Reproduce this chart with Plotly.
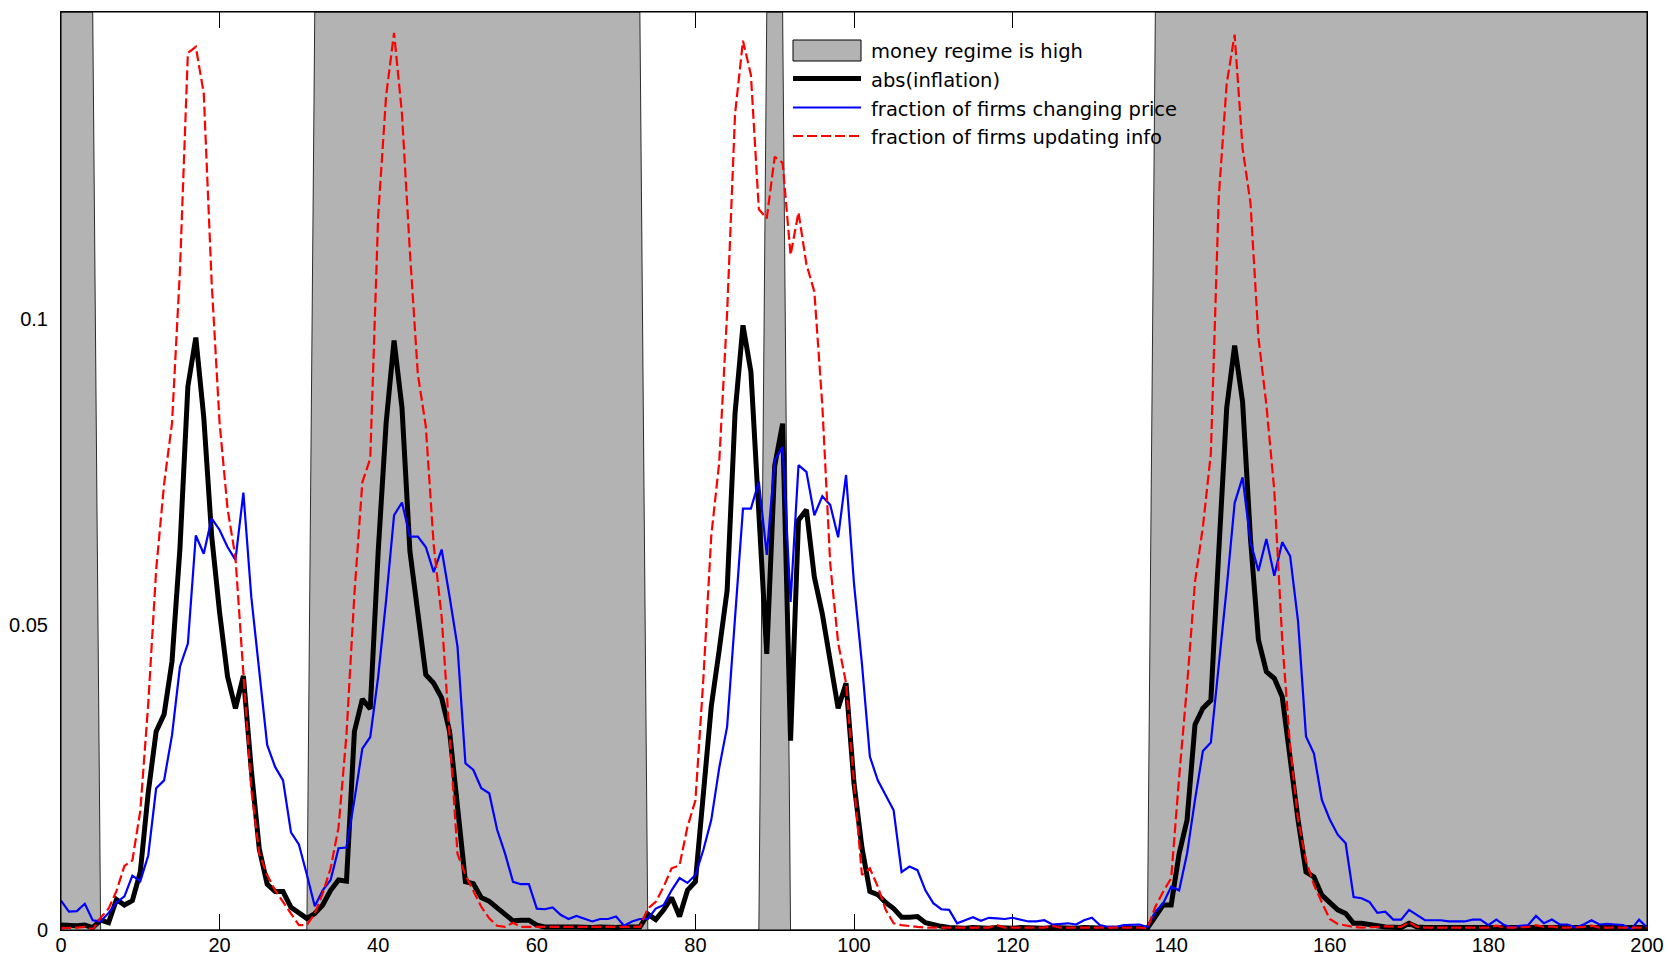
import plotly.graph_objects as go

# ---------------- data ----------------
t = list(range(0, 201))

# 1 = money regime high, 0 = low
regime = ([1] * 5 + [0] * 27 + [1] * 42 + [0] * 15 + [1] * 3 + [0] * 46 + [1] * 63)

abs_inflation = [
    0.0008, 0.0007, 0.0007, 0.0008, 0.0004, 0.0016, 0.0012, 0.0050, 0.0041, 0.0048,
    0.0095, 0.0225, 0.0325, 0.0353, 0.0440, 0.0625, 0.0890, 0.0970, 0.0840, 0.0645,
    0.0520, 0.0415, 0.0363, 0.0416, 0.0262, 0.0133, 0.0075, 0.0063, 0.0063, 0.0037,
    0.0029, 0.0019, 0.0027, 0.0041, 0.0065, 0.0082, 0.0080, 0.0325, 0.0378, 0.0362,
    0.0620, 0.0830, 0.0965, 0.0855, 0.0620, 0.0512, 0.0418, 0.0404, 0.0380, 0.0325,
    0.0196, 0.0079, 0.0076, 0.0053, 0.0047, 0.0036, 0.0027, 0.0015, 0.0016, 0.0016,
    0.0008, 0.0005, 0.0005, 0.0004, 0.0005, 0.0005, 0.0004, 0.0004, 0.0005, 0.0004,
    0.0004, 0.0005, 0.0004, 0.0005, 0.0026, 0.0017, 0.0033, 0.0053, 0.0022, 0.0065,
    0.0079, 0.0230, 0.0366, 0.0458, 0.0556, 0.0846, 0.0990, 0.0914, 0.0680, 0.0452,
    0.0760, 0.0829, 0.0310, 0.0671, 0.0688, 0.0578, 0.0518, 0.0442, 0.0363, 0.0404,
    0.0240, 0.0135, 0.0063, 0.0058, 0.0045, 0.0035, 0.0021, 0.0021, 0.0022, 0.0012,
    0.0008, 0.0006, 0.0004, 0.0003, 0.0003, 0.0004, 0.0003, 0.0003, 0.0004, 0.0003,
    0.0003, 0.0004, 0.0003, 0.0003, 0.0003, 0.0004, 0.0003, 0.0003, 0.0003, 0.0004,
    0.0003, 0.0003, 0.0003, 0.0003, 0.0003, 0.0003, 0.0003, 0.0003, 0.0022, 0.0041,
    0.0041, 0.0125, 0.0180, 0.0336, 0.0363, 0.0376, 0.0620, 0.0855, 0.0957, 0.0865,
    0.0640, 0.0475, 0.0423, 0.0412, 0.0382, 0.0278, 0.0180, 0.0095, 0.0087, 0.0057,
    0.0044, 0.0033, 0.0027, 0.0011, 0.0011, 0.0010, 0.0007, 0.0005, 0.0004, 0.0004,
    0.0011, 0.0005, 0.0004, 0.0004, 0.0004, 0.0004, 0.0004, 0.0004, 0.0004, 0.0004,
    0.0004, 0.0004, 0.0004, 0.0004, 0.0004, 0.0004, 0.0006, 0.0004, 0.0004, 0.0004,
    0.0004, 0.0004, 0.0004, 0.0005, 0.0004, 0.0004, 0.0004, 0.0004, 0.0004, 0.0004,
    0.0004,
]

frac_changing_price = [
    0.0048, 0.0030, 0.0031, 0.0043, 0.0016, 0.0014, 0.0028, 0.0045, 0.0055, 0.0089,
    0.0080, 0.0122, 0.0232, 0.0245, 0.0319, 0.0431, 0.0469, 0.0646, 0.0616, 0.0674,
    0.0655, 0.0627, 0.0606, 0.0716, 0.0545, 0.0420, 0.0303, 0.0267, 0.0245, 0.0160,
    0.0140, 0.0091, 0.0039, 0.0065, 0.0082, 0.0134, 0.0135, 0.0213, 0.0297, 0.0316,
    0.0415, 0.0540, 0.0679, 0.0700, 0.0644, 0.0644, 0.0627, 0.0586, 0.0623, 0.0546,
    0.0464, 0.0273, 0.0262, 0.0232, 0.0224, 0.0164, 0.0125, 0.0079, 0.0075, 0.0075,
    0.0035, 0.0034, 0.0037, 0.0025, 0.0018, 0.0023, 0.0018, 0.0014, 0.0018, 0.0018,
    0.0022, 0.0007, 0.0014, 0.0018, 0.0018, 0.0035, 0.0041, 0.0065, 0.0085, 0.0077,
    0.0090, 0.0131, 0.0180, 0.0265, 0.0333, 0.0510, 0.0690, 0.0690, 0.0734, 0.0614,
    0.0769, 0.0791, 0.0537, 0.0761, 0.0750, 0.0679, 0.0710, 0.0696, 0.0643, 0.0745,
    0.0567, 0.0436, 0.0284, 0.0245, 0.0221, 0.0196, 0.0095, 0.0104, 0.0098, 0.0065,
    0.0044, 0.0034, 0.0033, 0.0011, 0.0016, 0.0021, 0.0015, 0.0020, 0.0019, 0.0018,
    0.0020, 0.0017, 0.0014, 0.0014, 0.0016, 0.0009, 0.0010, 0.0011, 0.0009, 0.0016,
    0.0020, 0.0008, 0.0005, 0.0005, 0.0008, 0.0009, 0.0009, 0.0005, 0.0030, 0.0044,
    0.0071, 0.0065, 0.0125, 0.0213, 0.0293, 0.0307, 0.0430, 0.0560, 0.0699, 0.0741,
    0.0635, 0.0588, 0.0640, 0.0580, 0.0635, 0.0612, 0.0505, 0.0317, 0.0289, 0.0213,
    0.0181, 0.0156, 0.0142, 0.0054, 0.0052, 0.0046, 0.0028, 0.0030, 0.0017, 0.0017,
    0.0033, 0.0025, 0.0016, 0.0016, 0.0016, 0.0014, 0.0014, 0.0014, 0.0017, 0.0017,
    0.0008, 0.0017, 0.0008, 0.0004, 0.0007, 0.0008, 0.0023, 0.0011, 0.0017, 0.0009,
    0.0009, 0.0004, 0.0009, 0.0016, 0.0009, 0.0010, 0.0009, 0.0008, 0.0001, 0.0017,
    0.0004,
]

frac_updating_info = [
    0.0003, 0.0003, 0.0004, 0.0005, 0.0001, 0.0020, 0.0035, 0.0064, 0.0105, 0.0114,
    0.0195, 0.0370, 0.0590, 0.0730, 0.0830, 0.1080, 0.1436, 0.1446, 0.1370, 0.1060,
    0.0830, 0.0690, 0.0610, 0.0420, 0.0230, 0.0125, 0.0090, 0.0065, 0.0045, 0.0027,
    0.0008, 0.0008, 0.0027, 0.0060, 0.0101, 0.0168, 0.0320, 0.0550, 0.0733, 0.0772,
    0.1170, 0.1366, 0.1469, 0.1336, 0.1110, 0.0910, 0.0825, 0.0630, 0.0513, 0.0327,
    0.0125, 0.0090, 0.0065, 0.0038, 0.0019, 0.0007, 0.0005, 0.0012, 0.0005, 0.0005,
    0.0005, 0.0005, 0.0005, 0.0005, 0.0005, 0.0005, 0.0005, 0.0005, 0.0005, 0.0005,
    0.0005, 0.0005, 0.0005, 0.0005, 0.0035, 0.0046, 0.0071, 0.0101, 0.0106, 0.0169,
    0.0212, 0.0410, 0.0645, 0.0765, 0.1010, 0.1336, 0.1456, 0.1400, 0.1180, 0.1165,
    0.1266, 0.1256, 0.1105, 0.1175, 0.1090, 0.1045, 0.0860, 0.0600, 0.0470, 0.0404,
    0.0240, 0.0090, 0.0101, 0.0071, 0.0033, 0.0011, 0.0008, 0.0006, 0.0005, 0.0004,
    0.0004, 0.0005, 0.0004, 0.0004, 0.0005, 0.0004, 0.0004, 0.0004, 0.0008, 0.0004,
    0.0004, 0.0004, 0.0005, 0.0004, 0.0004, 0.0007, 0.0004, 0.0004, 0.0004, 0.0004,
    0.0005, 0.0004, 0.0004, 0.0004, 0.0004, 0.0004, 0.0004, 0.0003, 0.0038, 0.0063,
    0.0085, 0.0250, 0.0400, 0.0570, 0.0660, 0.0780, 0.1200, 0.1386, 0.1466, 0.1280,
    0.1190, 0.0970, 0.0860, 0.0720, 0.0475, 0.0300, 0.0180, 0.0113, 0.0074, 0.0045,
    0.0018, 0.0010, 0.0007, 0.0005, 0.0004, 0.0004, 0.0005, 0.0006, 0.0005, 0.0005,
    0.0013, 0.0005, 0.0004, 0.0004, 0.0004, 0.0004, 0.0005, 0.0004, 0.0004, 0.0004,
    0.0004, 0.0007, 0.0004, 0.0004, 0.0004, 0.0005, 0.0008, 0.0005, 0.0006, 0.0004,
    0.0004, 0.0004, 0.0005, 0.0007, 0.0004, 0.0004, 0.0004, 0.0005, 0.0004, 0.0005,
    0.0004,
]

series_names = [
    "money regime is high",
    "abs(inflation)",
    "fraction of firms changing price",
    "fraction of firms updating info",
]

x_ticks = [0, 20, 40, 60, 80, 100, 120, 140, 160, 180, 200]
y_ticks = [0, 0.05, 0.1]
y_tick_labels = ["0", "0.05", "0.1"]
Y_MAX = 0.1503

# ---------------- styling ----------------
FONT = "Liberation Sans, Arial, Helvetica, sans-serif"
LEGEND_FONT = "DejaVu Sans, Liberation Sans, Arial, sans-serif"
GRAY = "rgb(179,179,179)"
BLUE = "rgb(0,0,255)"
RED = "rgb(255,0,0)"
RED_DASH = "10px,4px"

W, H = 1669, 960
ML, MR, MT, MB = 61, 22, 12, 30
PW, PH = W - ML - MR, H - MT - MB


def px_x(px):
    return (px - ML) / PW


def px_y(py):
    return (H - MB - py) / PH


fig = go.Figure()

fig.add_trace(go.Scatter(
    x=t, y=[r * Y_MAX for r in regime], mode="lines", name=series_names[0],
    fill="tozeroy", fillcolor=GRAY, line=dict(color="black", width=0.8),
    showlegend=False,
))
fig.add_trace(go.Scatter(
    x=t, y=abs_inflation, mode="lines", name=series_names[1],
    line=dict(color="black", width=5), showlegend=False,
))
fig.add_trace(go.Scatter(
    x=t, y=frac_changing_price, mode="lines", name=series_names[2],
    line=dict(color=BLUE, width=2.2), showlegend=False,
))
fig.add_trace(go.Scatter(
    x=t, y=frac_updating_info, mode="lines", name=series_names[3],
    line=dict(color=RED, width=2.2, dash=RED_DASH), showlegend=False,
))

axis_common = dict(
    showgrid=False, zeroline=False, showline=True, linecolor="black", linewidth=1,
    mirror="ticks", ticks="inside", ticklen=16, tickwidth=1, tickcolor="black",
    layer="below traces", automargin=False,
    tickfont=dict(family=FONT, size=20, color="black"),
)

# legend drawn as shapes + text (placed in paper coordinates)
sx0, sx1 = px_x(793), px_x(861)
text_x = px_x(869)
row_text_y = [51.5, 80.5, 109, 137.5]
shapes = [
    dict(type="rect", xref="paper", yref="paper", x0=sx0, x1=sx1,
         y0=px_y(61), y1=px_y(40), fillcolor=GRAY, line=dict(color="black", width=1),
         layer="above"),
    dict(type="line", xref="paper", yref="paper", x0=sx0, x1=sx1,
         y0=px_y(78.5), y1=px_y(78.5), line=dict(color="black", width=5), layer="above"),
    dict(type="line", xref="paper", yref="paper", x0=sx0, x1=sx1,
         y0=px_y(107.5), y1=px_y(107.5), line=dict(color=BLUE, width=2.2), layer="above"),
    dict(type="line", xref="paper", yref="paper", x0=sx0, x1=sx1,
         y0=px_y(136), y1=px_y(136), line=dict(color=RED, width=2.2, dash=RED_DASH),
         layer="above"),
    # axes frame on top
    dict(type="rect", xref="paper", yref="paper", x0=0, x1=1, y0=0, y1=1,
         line=dict(color="black", width=1), fillcolor="rgba(0,0,0,0)", layer="above"),
]
annotations = [
    dict(xref="paper", yref="paper", x=text_x, y=px_y(yy), text=name,
         showarrow=False, xanchor="left", yanchor="middle",
         font=dict(family=LEGEND_FONT, size=19.5, color="black"))
    for name, yy in zip(series_names, row_text_y)
]

fig.update_layout(
    width=W, height=H, autosize=False,
    margin=dict(l=ML, r=MR, t=MT, b=MB, pad=0),
    paper_bgcolor="white", plot_bgcolor="white",
    font=dict(family=FONT, color="black"),
    xaxis=dict(range=[0, 200], tickvals=x_ticks, ticklabelstandoff=-3, **axis_common),
    yaxis=dict(range=[0, Y_MAX], tickvals=y_ticks, ticktext=y_tick_labels,
               ticklabelstandoff=8, **axis_common),
    showlegend=False,
    shapes=shapes,
    annotations=annotations,
)

fig.write_html(
    "out.html",
    config={"displayModeBar": False},
    post_script="document.body.style.margin='0';document.body.style.overflow='hidden';",
)
